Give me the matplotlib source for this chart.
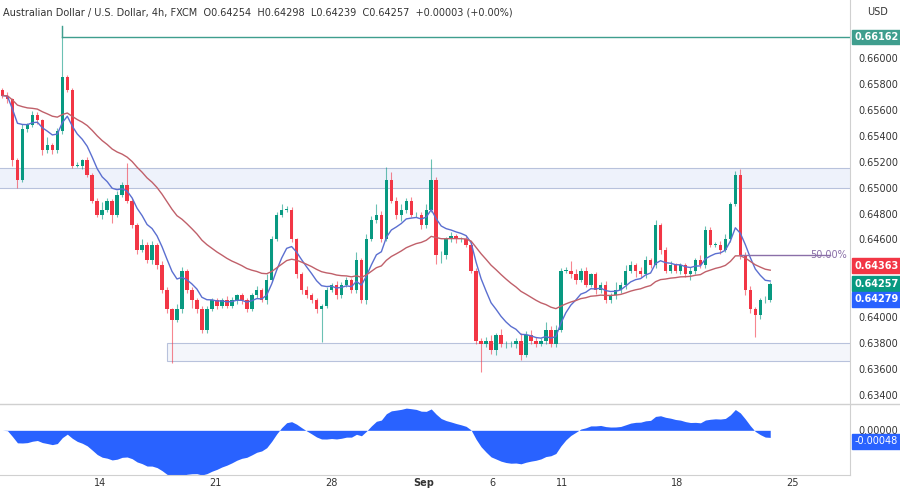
import numpy as np
import matplotlib.pyplot as plt
from matplotlib.patches import Rectangle

# 4h closes
closes = [0.6571, 0.6568, 0.6521, 0.6506, 0.6545, 0.6548, 0.6556, 0.6552, 0.6529, 0.6533,
          0.6529, 0.6544, 0.6585, 0.6575, 0.6517, 0.6517, 0.6521, 0.6510, 0.6490, 0.6479,
          0.6483, 0.6490, 0.6479, 0.6494, 0.6502, 0.6490, 0.6471, 0.6452, 0.6456, 0.6444,
          0.6456, 0.6440, 0.6421, 0.6406, 0.6398, 0.6406, 0.6436, 0.6421, 0.6413, 0.6406,
          0.6390, 0.6406, 0.6413, 0.6409, 0.6413, 0.6409, 0.6413, 0.6417, 0.6413, 0.6406,
          0.6417, 0.6421, 0.6413, 0.6429, 0.6460, 0.6479, 0.6483, 0.6483, 0.6460, 0.6433,
          0.6421, 0.6417, 0.6413, 0.6406, 0.6409, 0.6421, 0.6425, 0.6417, 0.6425, 0.6429,
          0.6421, 0.6444, 0.6413, 0.6460, 0.6475, 0.6479, 0.6460, 0.6506, 0.6490, 0.6479,
          0.6483, 0.6490, 0.6479, 0.6479, 0.6471, 0.6483, 0.6506, 0.6448, 0.6448, 0.6460,
          0.6463, 0.6460, 0.6460, 0.6456, 0.6436, 0.6382, 0.6379, 0.6382, 0.6375, 0.6386,
          0.6379, 0.6379, 0.6379, 0.6382, 0.6371, 0.6386, 0.6382, 0.6379, 0.6382, 0.6390,
          0.6379, 0.6390, 0.6436, 0.6436, 0.6433, 0.6429, 0.6436, 0.6425, 0.6433, 0.6421,
          0.6425, 0.6413, 0.6417, 0.6421, 0.6425, 0.6436, 0.6440, 0.6436, 0.6433, 0.6444,
          0.6440, 0.6471, 0.6452, 0.6436, 0.6440, 0.6436, 0.6440, 0.6433, 0.6436, 0.6444,
          0.6440, 0.6467, 0.6456, 0.6456, 0.6452, 0.6460, 0.6487, 0.6510, 0.6448, 0.6421,
          0.6406, 0.6402, 0.6413, 0.6413, 0.64257]
first_open = 0.6575
# wick lengths (price units x1e-5)
wick_up = [20, 30, 10, 20, 40, 15, 30, 20, 10, 60, 15, 20, 400, 20, 15, 30, 10, 25, 15, 20,
           60, 20, 15, 30, 25, 170, 20, 15, 40, 20, 25, 15, 30, 20, 10, 40, 30, 15, 20, 20,
           25, 30, 20, 15, 20, 30, 25, 10, 20, 15, 20, 30, 15, 40, 30, 20, 40, 30, 20, 15,
           20, 30, 20, 15, 15, 20, 15, 30, 20, 20, 15, 60, 20, 40, 30, 80, 30, 100, 60, 25,
           40, 20, 30, 20, 25, 40, 160, 20, 30, 20, 30, 15, 20, 25, 20, 20, 20, 30, 40, 20,
           50, 30, 25, 20, 60, 30, 40, 25, 20, 60, 30, 40, 20, 30, 70, 40, 20, 30, 15, 20,
           20, 30, 20, 60, 20, 40, 30, 20, 25, 30, 20, 40, 15, 20, 30, 20, 15, 20, 30, 20,
           40, 30, 25, 20, 30, 40, 20, 30, 40, 20, 30, 20, 20, 30, 15]
wick_dn = [20, 30, 40, 60, 15, 20, 15, 30, 40, 20, 30, 20, 30, 15, 20, 15, 30, 20, 15, 20,
           30, 15, 60, 20, 15, 20, 20, 30, 15, 20, 30, 25, 20, 30, 330, 20, 30, 20, 60, 30,
           20, 20, 15, 30, 20, 15, 20, 25, 30, 20, 15, 20, 15, 25, 20, 15, 20, 15, 20, 25,
           30, 20, 20, 30, 250, 20, 15, 30, 20, 15, 20, 25, 20, 30, 15, 20, 20, 15, 20, 30,
           50, 25, 20, 15, 30, 20, 20, 70, 60, 30, 20, 30, 20, 15, 20, 30, 210, 20, 30, 40,
           20, 30, 20, 30, 40, 20, 30, 20, 15, 30, 20, 20, 15, 20, 25, 30, 20, 15, 20, 30,
           25, 20, 20, 30, 20, 30, 20, 50, 20, 30, 20, 20, 30, 20, 15, 20, 30, 20, 40, 30,
           20, 20, 15, 20, 30, 20, 20, 15, 30, 40, 30, 170, 30, 20, 15]

tick_pos = [19.6, 42.8, 66, 84.4, 98.2, 112.2, 135.4, 158.4]
tick_lbl = ["14", "21", "28", "Sep", "6", "11", "18", "25"]
price_ticks = [0.634, 0.636, 0.638, 0.640, 0.646, 0.648, 0.650, 0.652, 0.654, 0.656, 0.658, 0.660]

res_top, res_bot = 0.6515, 0.6500
sup_top, sup_bot = 0.6380, 0.6366
swing_high = 0.66162
fib50 = 0.64480

GREEN, RED, BLUE, MA_RED, TEAL = "#089981", "#f23645", "#5b6fd0", "#c0606a", "#3f9e8e"

c = np.array(closes)
o = np.concatenate([[first_open], c[:-1]])
hi = np.maximum(o, c) + np.array(wick_up) * 1e-5
lo = np.minimum(o, c) - np.array(wick_dn) * 1e-5
idx = np.arange(len(c))


def ema(x, n):
    out = np.empty_like(x)
    out[0] = x[0]
    a = 2 / (n + 1)
    for i in range(1, len(x)):
        out[i] = a * x[i] + (1 - a) * out[i - 1]
    return out


fast = ema(c, 9)
slow = ema(c, 30)
osc = ema(c, 12) - ema(c, 26)

fig = plt.figure(figsize=(9, 4.9), dpi=100)
ax = fig.add_axes([0, 85 / 490, 850 / 900, 405 / 490])
ax2 = fig.add_axes([0, 15 / 490, 850 / 900, 70 / 490], sharex=ax)

for i in idx:
    col = GREEN if c[i] >= o[i] else RED
    ax.vlines(i, lo[i], hi[i], color=col, lw=0.8, alpha=0.6)
    ax.add_patch(Rectangle((i - 0.35, min(o[i], c[i])), 0.7,
                           max(abs(c[i] - o[i]), 1.5e-5), color=col, lw=0))

ax.plot(idx, fast, color=BLUE, lw=1)
ax.plot(idx, slow, color=MA_RED, lw=1)

ax.add_patch(Rectangle((-1, res_bot), 172, res_top - res_bot, fc="#eef2fb",
                       ec="#b8c2dc", lw=0.8, zorder=0))
ax.add_patch(Rectangle((33, sup_bot), 140, sup_top - sup_bot, fc="#f4f6fb",
                       ec="#b8c2dc", lw=0.8, zorder=0))
ax.plot([12, 170], [swing_high, swing_high], color=TEAL, lw=1)
ax.plot([12, 12], [hi[12], swing_high], color=TEAL, lw=1)
ax.plot([148, 166], [fib50, fib50], color="#8a6fa8", lw=1)
ax.text(162, fib50, "50.00%", color="#8a6fa8", fontsize=7, va="center", ha="left")

ax.set_xlim(-0.5, 170)
ax.set_ylim(0.63323, 0.66447)
ax.yaxis.tick_right()
ax.set_yticks(price_ticks)
ax.yaxis.set_major_formatter(plt.FuncFormatter(lambda v, p: f"{v:.5f}"))
ax.tick_params(axis="y", labelsize=7, colors="#333333", length=0, pad=6)
ax.tick_params(axis="x", bottom=False, labelbottom=False)
for s in ["top", "left", "bottom"]:
    ax.spines[s].set_visible(False)
ax.spines["right"].set_color("#d0d0d0")

# price tags on the right scale, stacked around the last close
ax.annotate(f"{swing_high:.5f}", xy=(1, swing_high), xycoords=("axes fraction", "data"),
            xytext=(3, 0), textcoords="offset points", fontsize=7, color="white",
            va="center", fontweight="bold", bbox=dict(boxstyle="square,pad=0.25", fc=TEAL, ec=TEAL))
for val, col, dy in [(slow[-1], RED, 13), (c[-1], GREEN, 0), (fast[-1], "#2962ff", -11)]:
    ax.annotate(f"{val:.5f}", xy=(1, c[-1]), xycoords=("axes fraction", "data"),
                xytext=(3, dy), textcoords="offset points", fontsize=7, color="white",
                va="center", fontweight="bold",
                bbox=dict(boxstyle="square,pad=0.25", fc=col, ec=col))

ax2.fill_between(idx, osc, 0, color="#2962ff", lw=0)
ax2.set_ylim(-0.003, 0.0017)
ax2.yaxis.tick_right()
ax2.set_yticks([0])
ax2.set_yticklabels(["0.00000"])
ax2.tick_params(axis="y", labelsize=7, colors="#333333", length=0, pad=6)
ax2.set_xticks(tick_pos)
ax2.set_xticklabels(tick_lbl, fontsize=7, color="#333333")
ax2.tick_params(axis="x", length=0, pad=2)
for lbl in ax2.get_xticklabels():
    if lbl.get_text() == "Sep":
        lbl.set_fontweight("bold")
for s in ["top", "left"]:
    ax2.spines[s].set_visible(False)
ax2.spines["right"].set_color("#d0d0d0")
ax2.spines["bottom"].set_color("#d0d0d0")
ax2.annotate(f"{osc[-1]:.5f}", xy=(1, 0), xycoords=("axes fraction", "data"),
             xytext=(3, -8), textcoords="offset points", fontsize=7, color="white",
             va="center", bbox=dict(boxstyle="square,pad=0.25", fc="#2962ff", ec="#2962ff"))
fig.add_artist(plt.Line2D([0, 1], [86 / 490, 86 / 490], color="#d0d0d0", lw=1))

fig.text(0.003, 0.985, "Australian Dollar / U.S. Dollar, 4h, FXCM  O0.64254  H0.64298  "
         "L0.64239  C0.64257  +0.00003 (+0.00%)", fontsize=7, color="#333333", va="top")
fig.text(0.975, 0.985, "USD", fontsize=7, color="#333333", va="top", ha="center")

fig.savefig("out.png", dpi=100)
